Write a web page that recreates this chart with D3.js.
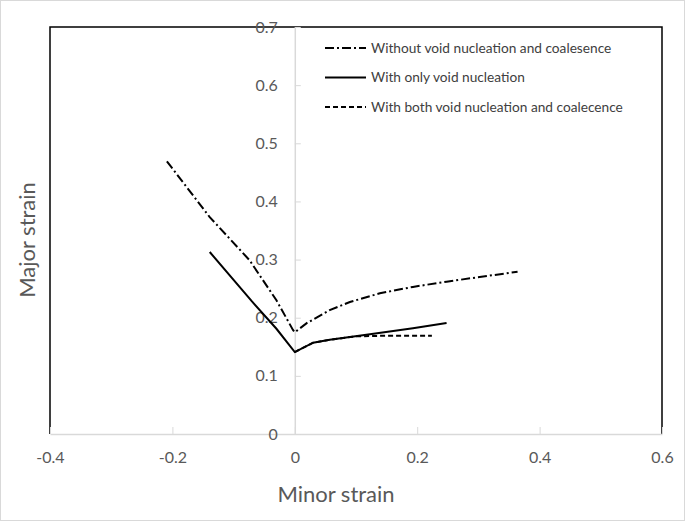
<!DOCTYPE html>
<html><head><meta charset="utf-8">
<script src="https://cdn.jsdelivr.net/npm/d3@7"></script>
<style>body{margin:0;background:#fff;} svg{display:block;font-family:Lato,"Open Sans",sans-serif;}</style>
</head><body><svg id="c" width="685" height="521"></svg>
<script>
const xTicks = [-0.4,-0.2,0,0.2,0.4,0.6];
const yTicks = [0,0.1,0.2,0.3,0.4,0.5,0.6,0.7];
const seriesNames = ["Without void nucleation and coalesence","With only void nucleation","With both void nucleation and coalecence"];
const withoutX = [-0.209,-0.139,-0.074,-0.03,-0.003,0,0.02,0.057,0.09,0.139,0.193,0.248,0.302,0.364];
const withoutY = [0.469,0.373,0.299,0.23,0.179,0.175,0.191,0.213,0.227,0.242,0.253,0.262,0.27,0.279];
const nuclX = [-0.139,-0.07,-0.03,0,0.03,0.057,0.111,0.193,0.248];
const nuclY = [0.313,0.228,0.181,0.141,0.157,0.162,0.170,0.182,0.191];
const bothX = [0,0.03,0.057,0.1,0.15,0.224];
const bothY = [0.141,0.157,0.162,0.168,0.169,0.169];

const svg = d3.select("#c");
const x = d3.scaleLinear().domain([-0.4,0.6]).range([50,662]);
const y = d3.scaleLinear().domain([0,0.7]).range([434,27]);

svg.append("rect").attr("x",0.5).attr("y",0.5).attr("width",684).attr("height",520).attr("fill","none").attr("stroke","#d9d9d9");

// frame
svg.append("path").attr("d",`M${x(-0.4)},${y(0)}V${y(0.7)}H${x(0.6)}V${y(0)}`).attr("fill","none").attr("stroke","#000").attr("stroke-width",1.5);

const fmt = d => String(+d.toFixed(1));
const gx = svg.append("g").attr("transform",`translate(0,${y(0)})`)
  .call(d3.axisBottom(x).tickValues(xTicks).tickFormat(fmt).tickSizeInner(-7).tickSizeOuter(0).tickPadding(18));
const gy = svg.append("g").attr("transform",`translate(${x(0)},0)`)
  .call(d3.axisLeft(y).tickValues(yTicks).tickFormat(fmt).tickSizeInner(-6).tickSizeOuter(0).tickPadding(17));
[gx,gy].forEach(g=>{
  g.select(".domain").attr("stroke","#d9d9d9").attr("stroke-width",1.5);
  g.selectAll(".tick line").attr("stroke","#d9d9d9").attr("stroke-width",1);
  g.selectAll("text").attr("fill","#595959").attr("font-size",16).attr("font-family","Lato,'Open Sans',sans-serif");
});

const line = d3.line().x(d=>x(d[0])).y(d=>y(d[1]));
const styles = ["9,3,2,3",null,"5,3"];
const data = [d3.zip(withoutX,withoutY), d3.zip(nuclX,nuclY), d3.zip(bothX,bothY)];
data.forEach((d,i)=>{
  svg.append("path").datum(d).attr("d",line).attr("fill","none").attr("stroke","#000")
    .attr("stroke-width",2).attr("stroke-dasharray",styles[i]);
});

// legend
const leg = svg.append("g");
seriesNames.forEach((n,i)=>{
  const yy = 48 + i*29.5;
  leg.append("line").attr("x1",325).attr("x2",366).attr("y1",yy).attr("y2",yy)
    .attr("stroke","#000").attr("stroke-width",2).attr("stroke-dasharray",styles[i]);
  leg.append("text").attr("x",371).attr("y",yy).attr("dy","0.35em").attr("font-size",13.7)
    .attr("fill","#404040").text(n);
});

svg.append("text").attr("x",336).attr("y",494).attr("dy","0.35em").attr("text-anchor","middle")
  .attr("font-size",22).attr("fill","#595959").text("Minor strain");
svg.append("text").attr("transform","translate(27,240) rotate(-90)").attr("dy","0.35em").attr("text-anchor","middle")
  .attr("font-size",22).attr("fill","#595959").text("Major strain");
</script></body></html>
